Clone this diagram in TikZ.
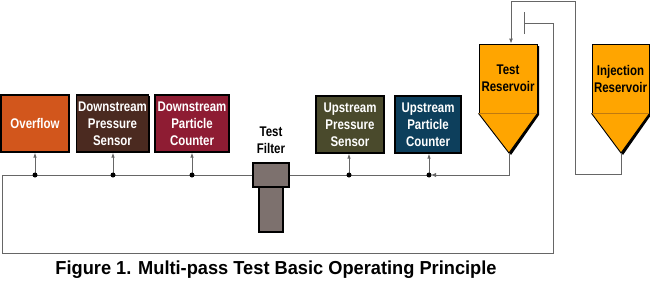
\documentclass[tikz,border=0pt]{standalone}
\usepackage{fontspec}
\newfontfamily\condfont[FakeStretch=0.82]{Liberation Sans}
\newfontfamily\capfont[FakeStretch=0.97]{Liberation Sans}
\definecolor{FOverflow}{HTML}{D2561C}
\definecolor{FDownPres}{HTML}{4B2A20}
\definecolor{FDownPart}{HTML}{8E1C33}
\definecolor{FUpPres}{HTML}{4A4A2C}
\definecolor{FUpPart}{HTML}{0D3F5C}
\definecolor{FTank}{HTML}{FFA500}
\definecolor{FTankRule}{HTML}{C07A10}
\definecolor{FFilter}{HTML}{7D716E}
\definecolor{FPipe}{HTML}{666666}
\usetikzlibrary{arrows.meta,positioning,calc,shadows}

\tikzset{
  unitbox/.style={rectangle,draw=black,line width=1.2pt,minimum height=57pt,
                  inner sep=0pt,align=center,text=white,
                  font=\condfont\bfseries\fontsize{14}{17}\selectfont,
                  drop shadow={shadow xshift=1.2pt,shadow yshift=-1.2pt,
                               fill=black,opacity=1}},
  tankbox/.style={rectangle,draw=black,line width=0.9pt,fill=FTank,
                  minimum height=69pt,inner sep=0pt,align=center,
                  font=\condfont\bfseries\fontsize{14}{17}\selectfont},
  pipe/.style={draw=FPipe,line width=0.9pt},
  tap/.style={draw=FPipe,line width=0.8pt,-{Latex[length=5pt,width=3.5pt]}},
  joint/.style={circle,fill=black,inner sep=0pt,minimum size=5pt},
  filterpart/.style={rectangle,draw=black,line width=1.2pt,fill=FFilter,inner sep=0pt}
}

\begin{document}
\begin{tikzpicture}[x=1pt,y=-1pt]
  \useasboundingbox (0,0) rectangle (650,281);

  % instruments along the line
  \node[unitbox,fill=FOverflow,minimum width=68pt] (overflow) at (35,123.5) {Overflow};
  \node[unitbox,fill=FDownPres,minimum width=72pt] (downpres) at (112.5,123.5) {Downstream\\Pressure\\Sensor};
  \node[unitbox,fill=FDownPart,minimum width=74pt] (downpart) at (192,123.5) {Downstream\\Particle\\Counter};
  \node[unitbox,fill=FUpPres,minimum width=68pt] (uppres) at (350,124.5) {Upstream\\Pressure\\Sensor};
  \node[unitbox,fill=FUpPart,minimum width=66pt] (uppart) at (428,124.5) {Upstream\\Particle\\Counter};

  % test filter
  \node[filterpart,minimum width=24pt,minimum height=45pt] (filterbody) at (271,209.5) {};
  \node[filterpart,minimum width=36pt,minimum height=24pt] (filterhead) at (271,175) {};
  \node[font=\condfont\bfseries\fontsize{14}{17}\selectfont,align=center,above=5pt of filterhead] (filterlbl) {Test\\Filter};

  % reservoirs
  \fill[black] (481,46) rectangle (539,115) -- (539,115) -- (511,155) -- (481,115) -- cycle;
  \node[tankbox,minimum width=58pt] (testres) at (508,78.5) {Test\\Reservoir};
  \coordinate (testtip) at (509,153);
  \filldraw[fill=FTank,draw=black,line width=0.9pt] (testres.south west) -- (testtip) -- (testres.south east);
  \draw[FTankRule,line width=0.6pt] (testres.south west) -- (testres.south east);

  \fill[black] (594,46) rectangle (651,115) -- (651,115) -- (623,155) -- (594,115) -- cycle;
  \node[tankbox,minimum width=57pt] (injres) at (620.5,78.5) {Injection\\Reservoir};
  \coordinate (injtip) at (621,153);
  \filldraw[fill=FTank,draw=black,line width=0.9pt] (injres.south west) -- (injtip) -- (injres.south east);
  \draw[FTankRule,line width=0.6pt] (injres.south west) -- (injres.south east);

  % junctions on the line
  \coordinate (jOF) at (35,175);
  \coordinate (jDP) at (113,175);
  \coordinate (jDC) at (192,175);
  \coordinate (jUP) at (349,175);
  \coordinate (jUC) at (429,175);
  \coordinate (loopNW) at (2,175);
  \coordinate (loopSW) at (2,253);
  \coordinate (loopSE) at (553,253);
  \coordinate (loopNE) at (553,23);
  \coordinate (loopEnd) at (524,23);
  \coordinate (injLow) at (575,174);
  \coordinate (injTop) at (575,1);

  \draw[pipe] (filterhead.west) -- (loopNW) -- (loopSW) -- (loopSE) -- (loopNE)
              -- (loopEnd);
  \draw[FPipe,line width=0.9pt] ([yshift=-11pt]loopEnd) -- ([yshift=11pt]loopEnd);
  \draw[pipe] (filterhead.east) -- (jUC);
  \draw[pipe,-{Latex[length=5pt,width=4.5pt]}] (testtip) |- ([xshift=2pt]jUC);
  \draw[pipe,-{Latex[length=5pt,width=4pt]}] (injtip) |- (injLow) -- (injTop)
              -| ([xshift=3pt]testres.north);

  \foreach \j/\b in {jOF/overflow,jDP/downpres,jDC/downpart,jUP/uppres,jUC/uppart}{
    \draw[tap] (\j) -- (\j |- \b.south);
    \node[joint] at (\j) {};
  }

  % caption
  \node[font=\capfont\bfseries\fontsize{18.8}{20}\selectfont] (caption) at (276,270)
    {Figure 1. Multi-pass Test Basic Operating Principle};
\end{tikzpicture}
\end{document}
